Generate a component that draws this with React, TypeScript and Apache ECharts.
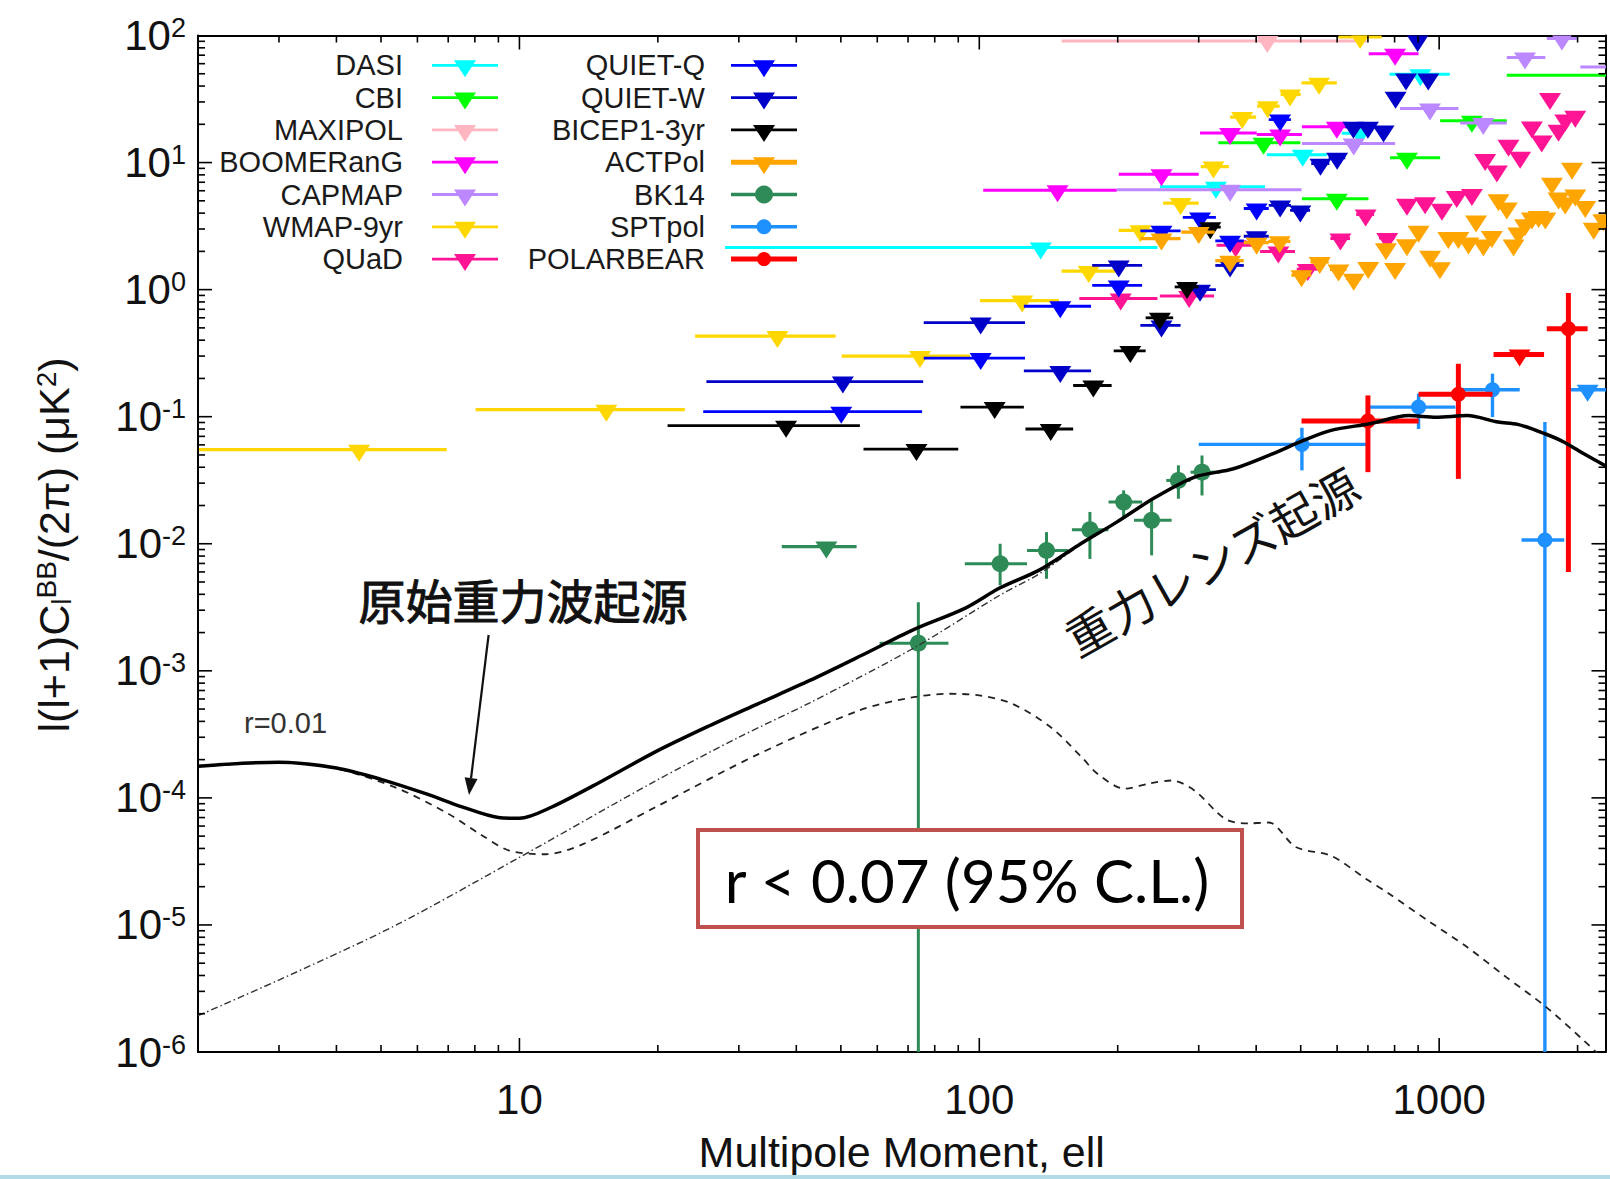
import React, { useEffect, useRef } from "react";
import * as echarts from "echarts";

// ---------- axes ----------
const X_MIN = 2;
const X_MAX = 2300;
const Y_MIN = 1e-6;
const Y_MAX = 1e2;
const xMajorTicks = [10, 100, 1000];
const yMajorTicks = [1e-5, 1e-4, 1e-3, 1e-2, 1e-1, 1, 10];
const minorMultipliers = [2, 3, 4, 5, 6, 7, 8, 9];
const xDecades = [1, 10, 100, 1000];
const yDecades = [1e-6, 1e-5, 1e-4, 1e-3, 1e-2, 1e-1, 1, 10];

// ---------- theory curves [ell, l(l+1)C/2pi] ----------
const totalBB = [
  [2, 1.77e-4], [2.5, 1.87e-4], [3, 1.91e-4], [4, 1.72e-4], [5, 1.4e-4], [6.3, 1.07e-4],
  [7.5, 8.5e-5], [9, 7.0e-5], [10, 6.9e-5], [11.7, 8.4e-5], [15.2, 1.37e-4], [19.7, 2.29e-4],
  [25.5, 3.6e-4], [33, 5.5e-4], [42.8, 8.4e-4], [55.4, 1.32e-3], [71.8, 2.1e-3], [93, 3.1e-3],
  [111, 4.5e-3], [135, 6.2e-3], [164, 9.7e-3], [199, 0.0148], [242, 0.0233], [294, 0.0335],
  [357, 0.0389], [434, 0.051], [507, 0.065], [582, 0.078], [706, 0.088], [859, 0.102],
  [985, 0.099], [1150, 0.102], [1344, 0.0907], [1482, 0.087], [1698, 0.0734], [1871, 0.063],
  [2064, 0.051], [2300, 0.041],
];
const tensorBB = [
  [2, 1.77e-4], [3, 1.9e-4], [4, 1.7e-4], [5.4, 1.2e-4], [7, 7.5e-5], [8.2, 5.2e-5],
  [9.5, 3.85e-5], [11.4, 3.6e-5], [13.7, 4.3e-5], [19.7, 8.4e-5], [33, 2.2e-4], [55, 4.9e-4],
  [72, 6.2e-4], [86, 6.6e-4], [100, 6.4e-4], [118, 5.5e-4], [143, 3.6e-4], [167, 2.09e-4],
  [181, 1.54e-4], [207, 1.18e-4], [235, 1.3e-4], [262, 1.37e-4], [294, 1.14e-4], [343, 6.8e-5],
  [385, 6.3e-5], [426, 6.4e-5], [488, 4.1e-5], [582, 3.5e-5], [694, 2.3e-5], [780, 1.75e-5],
  [946, 1.08e-5], [1150, 6.7e-6], [1397, 3.9e-6], [1698, 2.3e-6], [2064, 1.23e-6], [2300, 8.5e-7],
];
const lensingBB = [
  [2, 1.93e-6], [3.2, 4.1e-6], [5.4, 1.0e-5], [10, 3.4e-5], [19.7, 1.35e-4], [30, 3.0e-4],
  [42.8, 5.6e-4], [71.8, 1.5e-3], [111, 3.95e-3], [135, 5.8e-3], [164, 9.5e-3], [199, 0.0147],
  [242, 0.0232], [294, 0.0334], [357, 0.0388], [434, 0.0509], [507, 0.0649], [582, 0.0779],
  [706, 0.0879], [859, 0.1019], [985, 0.0989], [1150, 0.1019], [1344, 0.0906], [1482, 0.0869],
  [1698, 0.0733], [1871, 0.0629], [2064, 0.051], [2300, 0.041],
];

// ---------- upper limits [ell, value, ellLow, ellHigh] ----------
const DASI = [[136, 2.15, 28, 244], [327, 6.45, 247, 418], [505, 11.5, 422, 570], [673, 17.0, 614, 708], [910, 49.6, 780, 1055]];
const CBI = [[415, 14.3, 331, 499], [599, 5.2, 503, 702], [851, 10.9, 782, 1005], [1178, 21.3, 1005, 1403], [2450, 48.7, 1403, 3000]];
const MAXIPOL = [[423, 90.7, 151, 695]];
const BOOMERanG = [[148, 6.05, 102, 199], [249, 8.1, 201, 300], [351, 17.1, 302, 401], [451, 16.6, 401, 503], [599, 19.1, 503, 640], [802, 72, 703, 902]];
const CAPMAP = [[351, 6.1, 199, 502], [652, 14.1, 503, 802], [955, 26.6, 822, 1101], [1247, 20.5, 1111, 1403], [1537, 67, 1403, 1702], [1849, 94.6, 1714, 1992], [2450, 56.6, 2028, 2900]];
const WMAP9 = [
  [4.48, 0.055, 2.01, 6.95], [15.45, 0.1135, 8.03, 22.9], [36.4, 0.431, 24.1, 48.7], [74.3, 0.3, 50.2, 95.5],
  [124, 0.82, 100.4, 149], [173, 1.4, 151, 199], [224, 2.93, 201, 251], [274, 4.8, 251, 300],
  [323, 9.3, 303, 349], [373, 22.8, 351, 400], [424, 27.8, 402, 450], [474, 34.4, 452, 500],
  [548, 42.4, 502, 599], [673, 97.5, 604, 750],
];
const QUaD = [
  [203, 0.85, 165, 244], [286, 0.89, 247, 324], [361, 2.23, 328, 405], [447, 2.0, 408, 486], [518, 1.45, 490, 550],
  [610, 2.52, 580, 640], [692, 3.9, 660, 722], [771, 2.55, 740, 800], [851, 4.75, 820, 880], [932, 4.87, 900, 960],
  [1014, 4.33, 985, 1045], [1092, 5.45, 1060, 1120], [1178, 5.65, 1145, 1210], [1259, 10.65, 1230, 1290],
  [1335, 8.65, 1305, 1365], [1415, 13.8, 1385, 1445], [1500, 11.1, 1470, 1530], [1591, 19.2, 1560, 1620],
  [1671, 14.9, 1640, 1700], [1742, 32.2, 1715, 1770], [1818, 18.1, 1790, 1845], [1880, 21.8, 1855, 1905],
  [1977, 23.4, 1945, 2010],
];
// bins of fixed half width: [ell, value]
const quietBinHalfWidth = 25;
const QUIET_Q = [[50.1, 0.1095], [100.7, 0.289], [150, 0.74], [201, 1.08], [249, 2.9], [302, 3.7], [351, 2.42], [401, 4.35], [451, 21.8]];
const QUIET_W = [
  [50.5, 0.189], [100.7, 0.55], [150, 0.229], [201, 1.55], [249, 0.523], [302, 1.0], [351, 1.55], [401, 2.63],
  [451, 4.6], [499, 4.2], [552, 9.8], [600, 10.9], [651, 19.1], [700, 19.1], [757, 17.9], [804, 32.9],
  [847, 45.8], [898, 92], [947, 45.8],
];
const bicepBinHalfWidth = 17;
const BICEP1 = [[38, 0.085], [73, 0.0556], [108, 0.119], [143, 0.08], [177, 0.176], [213, 0.329], [247, 0.6], [283, 1.05], [318, 3.1]];
const actBinHalfWidth = 25;
const ACTPol = [
  [249, 2.52], [300, 2.84], [351, 1.69], [401, 2.34], [450, 2.4], [502, 1.3], [550, 1.65], [604, 1.44],
  [652, 1.22], [701, 1.51], [766, 2.12], [802, 1.48], [851, 2.28], [902, 2.9], [956, 1.85], [1004, 1.5],
  [1047, 2.6], [1101, 2.6], [1158, 2.35], [1203, 3.5], [1248, 2.27], [1302, 2.64], [1346, 5.14], [1403, 4.42],
  [1451, 2.27], [1486, 2.81], [1537, 3.27], [1591, 3.69], [1645, 3.8], [1702, 3.69], [1759, 6.95], [1818, 5.3],
  [1880, 4.84], [1945, 9.1], [1977, 5.6], [2078, 4.55], [2168, 3.07], [2275, 3.58],
];
const BK14_UL = [[46.5, 0.0095, 37.2, 54.1]];
const SPTpol_UL = [[2103, 0.163, 1928, 2317]];
const POLARBEAR_UL = [[1496, 0.309, 1313, 1691]];

// ---------- detections [ell, value, ellLow, ellHigh, valueLow, valueHigh] ----------
const BK14 = [
  [73.7, 0.00165, 60.7, 85.7, 1e-9, 0.00347], [111, 0.00696, 93, 127, 0.0047, 0.01],
  [140, 0.00885, 127, 156, 0.0053, 0.01235], [174, 0.0129, 159, 191, 0.0076, 0.0178],
  [206, 0.0213, 191, 226, 0.0157, 0.0263], [237, 0.0153, 217, 262, 0.0081, 0.0222],
  [271, 0.0315, 255, 288, 0.0226, 0.0414], [305, 0.0366, 288, 334, 0.024, 0.0495],
];
const SPTpol = [
  [503, 0.0605, 300, 693, 0.0378, 0.0818], [902, 0.119, 706, 1085, 0.08, 0.152],
  [1306, 0.163, 1096, 1497, 0.0993, 0.218], [1698, 0.0107, 1510, 1871, 1e-9, 0.0908],
];
const POLARBEAR = [
  [700, 0.0924, 502, 902, 0.0366, 0.147], [1101, 0.15, 902, 1306, 0.0324, 0.261],
  [1910, 0.493, 1714, 2103, 0.00598, 0.942],
];

// ---------- styles ----------
const COLORS: Record<string, string> = {
  DASI: "#00FFFF", CBI: "#00FF00", MAXIPOL: "#FFB6C1", BOOMERanG: "#FF00FF", CAPMAP: "#BB88FF",
  "WMAP-9yr": "#FFD700", QUaD: "#FF1493", "QUIET-Q": "#0000FF", "QUIET-W": "#0000C8",
  "BICEP1-3yr": "#000000", ACTPol: "#FFA500", BK14: "#2E8B57", SPTpol: "#1E90FF", POLARBEAR: "#FF0000",
};
const legendLeft = ["DASI", "CBI", "MAXIPOL", "BOOMERanG", "CAPMAP", "WMAP-9yr", "QUaD"];
const legendRight = ["QUIET-Q", "QUIET-W", "BICEP1-3yr", "ACTPol", "BK14", "SPTpol", "POLARBEAR"];

const FONT = "'Liberation Sans', Arial, Helvetica, sans-serif";
const CJK = "'Noto Sans CJK JP', 'Noto Sans CJK SC', sans-serif";
const TRI_W = 11;
const TRI_UP = 5;
const TRI_DOWN = 12;

function triPoints(cx: number, cy: number) {
  return [[cx - TRI_W, cy - TRI_UP], [cx + TRI_W, cy - TRI_UP], [cx, cy + TRI_DOWN]];
}

function ulSeries(name: string, data: number[][], lineWidth: number) {
  const color = COLORS[name];
  return {
    type: "custom",
    name,
    clip: true,
    silent: true,
    encode: { x: 0, y: 1 },
    data,
    renderItem: (_p: any, api: any) => {
      const x = api.value(0), y = api.value(1), lo = api.value(2), hi = api.value(3);
      const c = api.coord([x, y]);
      const a = api.coord([lo, y]);
      const b = api.coord([hi, y]);
      return {
        type: "group",
        children: [
          { type: "line", shape: { x1: a[0], y1: a[1], x2: b[0], y2: b[1] }, style: { stroke: color, lineWidth } },
          { type: "polygon", shape: { points: triPoints(c[0], c[1]) }, style: { fill: color } },
        ],
      };
    },
  };
}

function pointSeries(name: string, data: number[][], lineWidth: number, r: number) {
  const color = COLORS[name];
  return {
    type: "custom",
    name,
    clip: true,
    silent: true,
    encode: { x: 0, y: 1 },
    data,
    renderItem: (_p: any, api: any) => {
      const x = api.value(0), y = api.value(1);
      const c = api.coord([x, y]);
      const a = api.coord([api.value(2), y]);
      const b = api.coord([api.value(3), y]);
      const lo = api.coord([x, api.value(4)]);
      const hi = api.coord([x, api.value(5)]);
      return {
        type: "group",
        children: [
          { type: "line", shape: { x1: a[0], y1: a[1], x2: b[0], y2: b[1] }, style: { stroke: color, lineWidth } },
          { type: "line", shape: { x1: lo[0], y1: lo[1], x2: hi[0], y2: hi[1] }, style: { stroke: color, lineWidth } },
          { type: "circle", shape: { cx: c[0], cy: c[1], r }, style: { fill: color } },
        ],
      };
    },
  };
}

function fixedBins(data: number[][], half: number) {
  return data.map(([l, v]) => [l, v, l - half, l + half]);
}

function tickSeries() {
  const xMinor: number[] = [];
  xDecades.forEach((d) => minorMultipliers.forEach((m) => { const v = m * d; if (v > X_MIN && v < X_MAX) xMinor.push(v); }));
  const yMinor: number[] = [];
  yDecades.forEach((d) => minorMultipliers.forEach((m) => yMinor.push(m * d)));
  const xData = [...xMinor.map((v) => [v, Y_MIN, 7]), ...xMajorTicks.map((v) => [v, Y_MIN, 14])];
  const yData = [...yMinor.map((v) => [X_MIN, v, 7]), ...yMajorTicks.map((v) => [X_MIN, v, 14])];
  const st = { stroke: "#000", lineWidth: 1.6 };
  return [
    {
      type: "custom", silent: true, clip: false, encode: { x: 0, y: 1 }, data: xData, z: 5,
      renderItem: (_p: any, api: any) => {
        const v = api.value(0), len = api.value(2);
        const b = api.coord([v, Y_MIN]);
        const t = api.coord([v, Y_MAX]);
        return {
          type: "group",
          children: [
            { type: "line", shape: { x1: b[0], y1: b[1], x2: b[0], y2: b[1] - len }, style: st },
            { type: "line", shape: { x1: t[0], y1: t[1], x2: t[0], y2: t[1] + len }, style: st },
          ],
        };
      },
    },
    {
      type: "custom", silent: true, clip: false, encode: { x: 0, y: 1 }, data: yData, z: 5,
      renderItem: (_p: any, api: any) => {
        const v = api.value(1), len = api.value(2);
        const l = api.coord([X_MIN, v]);
        const r = api.coord([X_MAX, v]);
        return {
          type: "group",
          children: [
            { type: "line", shape: { x1: l[0], y1: l[1], x2: l[0] + len, y2: l[1] }, style: st },
            { type: "line", shape: { x1: r[0], y1: r[1], x2: r[0] - len, y2: r[1] }, style: st },
          ],
        };
      },
    },
  ];
}

function legendGraphics() {
  const els: any[] = [];
  const rowY0 = 65.3;
  const rowDy = 32.3;
  const cols = [
    { names: legendLeft, textRight: 403, lineL: 432, lineR: 498, mx: 465 },
    { names: legendRight, textRight: 705, lineL: 731, lineR: 797, mx: 764 },
  ];
  cols.forEach((col) => {
    col.names.forEach((name, i) => {
      const y = rowY0 + i * rowDy;
      const color = COLORS[name];
      const thick = name === "ACTPol" || name === "POLARBEAR" ? 5 : name === "SPTpol" || name === "BK14" ? 3.5 : 2.8;
      els.push({
        type: "text", z: 100, x: col.textRight, y,
        style: { text: name, fontSize: 29, fontFamily: FONT, fill: "#1a1a1a", align: "right", verticalAlign: "middle" },
      });
      els.push({ type: "line", z: 100, shape: { x1: col.lineL, y1: y, x2: col.lineR, y2: y }, style: { stroke: color, lineWidth: thick } });
      if (name === "BK14") {
        els.push({ type: "circle", z: 101, shape: { cx: col.mx, cy: y, r: 9 }, style: { fill: color } });
      } else if (name === "SPTpol") {
        els.push({ type: "circle", z: 101, shape: { cx: col.mx, cy: y, r: 7.5 }, style: { fill: color } });
      } else if (name === "POLARBEAR") {
        els.push({ type: "circle", z: 101, shape: { cx: col.mx, cy: y, r: 7 }, style: { fill: color } });
      } else {
        els.push({ type: "polygon", z: 101, shape: { points: triPoints(col.mx, y) }, style: { fill: color } });
      }
    });
  });
  return els;
}

function buildOption() {
  const gridLeft = 198, gridTop = 35.5, gridW = 1407.5, gridH = 1016.5;
  const axisLineStyle = { color: "#000", width: 2 };
  const logX = {
    type: "log", logBase: 10, min: X_MIN, max: X_MAX,
    splitLine: { show: false }, minorTick: { show: false }, minorSplitLine: { show: false },
    axisTick: { show: false }, axisLine: { show: true, onZero: false, lineStyle: axisLineStyle },
  };
  const logY = {
    type: "log", logBase: 10, min: Y_MIN, max: Y_MAX, splitNumber: 8,
    splitLine: { show: false }, minorTick: { show: false }, minorSplitLine: { show: false },
    axisTick: { show: false }, axisLine: { show: true, onZero: false, lineStyle: axisLineStyle },
  };

  const yTitleRich = {
    m: { fontSize: 43, lineHeight: 43, padding: [22, 0, 0, 0], verticalAlign: "bottom", fontFamily: FONT, fill: "#111" },
    sup: { fontSize: 28, lineHeight: 28, verticalAlign: "top", fontFamily: FONT, fill: "#111" },
    sub: { fontSize: 28, lineHeight: 20, verticalAlign: "bottom", fontFamily: FONT, fill: "#111" },
  };

  // arrow geometry
  const ax1 = 488.6, ay1 = 635, ax2 = 469, ay2 = 795;
  const dx = ax2 - ax1, dy = ay2 - ay1, dl = Math.hypot(dx, dy);
  const ux = dx / dl, uy = dy / dl, px = -uy, py = ux;
  const headL = 17, headW = 6.5;
  const bx = ax2 - ux * headL, by = ay2 - uy * headL;

  return {
    animation: false,
    backgroundColor: "#ffffff",
    grid: { left: gridLeft, top: gridTop, width: gridW, height: gridH, containLabel: false, outerBoundsMode: "none" },
    xAxis: [
      {
        ...logX, position: "bottom",
        name: "Multipole Moment, ell", nameLocation: "middle", nameGap: 78,
        nameTextStyle: { fontSize: 43, fontFamily: FONT, color: "#111" },
        axisLabel: {
          show: true, margin: 26, fontSize: 42, fontFamily: FONT, color: "#111",
          showMinLabel: true, showMaxLabel: true,
          formatter: (v: number) => {
            const k = Math.log10(v);
            return Math.abs(k - Math.round(k)) < 1e-6 && v >= 10 ? String(Math.round(v)) : "";
          },
        },
      },
      { ...logX, position: "top", axisLabel: { show: false } },
    ],
    yAxis: [
      {
        ...logY, position: "left",
        axisLabel: {
          show: true, margin: 12, fontFamily: FONT, color: "#111",
          formatter: (v: number) => `{b|10}{s|${Math.round(Math.log10(v))}}`,
          rich: {
            b: { fontSize: 42, lineHeight: 42, padding: [10, 0, 0, 0], verticalAlign: "bottom", fontFamily: FONT, color: "#111" },
            s: { fontSize: 27, lineHeight: 27, verticalAlign: "top", fontFamily: FONT, color: "#111" },
          },
        },
      },
      { ...logY, position: "right", axisLabel: { show: false } },
    ],
    series: [
      {
        type: "line", data: lensingBB, showSymbol: false, smooth: 0.3, silent: true, clip: true,
        lineStyle: { color: "#333", width: 1.4, type: [7, 3, 1.5, 3] },
      },
      {
        type: "line", data: tensorBB, showSymbol: false, smooth: 0.3, silent: true, clip: true,
        lineStyle: { color: "#222", width: 1.8, type: [7, 6] },
      },
      {
        type: "line", data: totalBB, showSymbol: false, smooth: 0.3, silent: true, clip: true,
        lineStyle: { color: "#000", width: 3.5 },
      },
      ulSeries("DASI", DASI, 3),
      ulSeries("CBI", CBI, 3),
      ulSeries("MAXIPOL", MAXIPOL, 3),
      ulSeries("BOOMERanG", BOOMERanG, 3),
      ulSeries("CAPMAP", CAPMAP, 3),
      ulSeries("WMAP-9yr", WMAP9, 3.2),
      ulSeries("QUaD", QUaD, 3),
      ulSeries("QUIET-Q", fixedBins(QUIET_Q, quietBinHalfWidth), 2.8),
      ulSeries("QUIET-W", fixedBins(QUIET_W, quietBinHalfWidth), 2.8),
      ulSeries("BICEP1-3yr", fixedBins(BICEP1, bicepBinHalfWidth), 2.8),
      ulSeries("ACTPol", fixedBins(ACTPol, actBinHalfWidth), 3.2),
      ulSeries("BK14", BK14_UL, 3.2),
      pointSeries("BK14", BK14, 3, 8.5),
      ulSeries("SPTpol", SPTpol_UL, 3.4),
      pointSeries("SPTpol", SPTpol, 3.4, 7.5),
      ulSeries("POLARBEAR", POLARBEAR_UL, 5),
      pointSeries("POLARBEAR", POLARBEAR, 5, 7.5),
      ...tickSeries(),
    ],
    graphic: [
      ...legendGraphics(),
      {
        type: "text", z: 100, x: 54, y: 545, rotation: Math.PI / 2,
        style: {
          text: "{m|l(l+1)C}{sub|l}{sup|BB}{m|/(2π) (μK}{sup|2}{m|)}",
          rich: yTitleRich, align: "center", verticalAlign: "middle", fontFamily: FONT, fill: "#111",
        },
      },
      {
        type: "text", z: 100, x: 244, y: 723,
        style: { text: "r=0.01", fontSize: 29, fontFamily: FONT, fill: "#333", align: "left", verticalAlign: "middle" },
      },
      {
        type: "text", z: 100, x: 523, y: 598,
        style: {
          text: "原始重力波起源", fontSize: 47, fontFamily: CJK, fill: "#111",
          stroke: "#111", lineWidth: 1, align: "center", verticalAlign: "middle",
        },
      },
      { type: "line", z: 100, shape: { x1: ax1, y1: ay1, x2: bx, y2: by }, style: { stroke: "#111", lineWidth: 2.2 } },
      {
        type: "polygon", z: 100,
        shape: { points: [[ax2, ay2], [bx + px * headW, by + py * headW], [bx - px * headW, by - py * headW]] },
        style: { fill: "#111" },
      },
      {
        type: "text", z: 100, x: 1211, y: 560, rotation: (29.4 * Math.PI) / 180,
        style: { text: "重力レンズ起源", fontSize: 47, fontFamily: CJK, fill: "#111", align: "center", verticalAlign: "middle" },
      },
      {
        type: "rect", z: 100, shape: { x: 698, y: 830, width: 544, height: 97 },
        style: { fill: "#fff", stroke: "#C0504D", lineWidth: 4 },
      },
      {
        type: "text", z: 101, x: 967, y: 880,
        style: { text: "r < 0.07 (95% C.L.)", fontSize: 60, fontFamily: "Lato, 'Open Sans', sans-serif", fill: "#000", align: "center", verticalAlign: "middle" },
      },
      { type: "rect", z: 120, shape: { x: 0, y: 1175, width: 1610, height: 4 }, style: { fill: "#b2dbe6" } },
    ],
  };
}

export default function App() {
  const ref = useRef<HTMLDivElement>(null);
  useEffect(() => {
    if (!ref.current) return;
    const chart = echarts.init(ref.current, null, { renderer: "svg" });
    chart.setOption(buildOption() as any);
    return () => chart.dispose();
  }, []);
  return (
    <div
      ref={ref}
      style={{ position: "fixed", left: 0, top: 0, width: 1610, height: 1179, background: "#fff" }}
    />
  );
}
